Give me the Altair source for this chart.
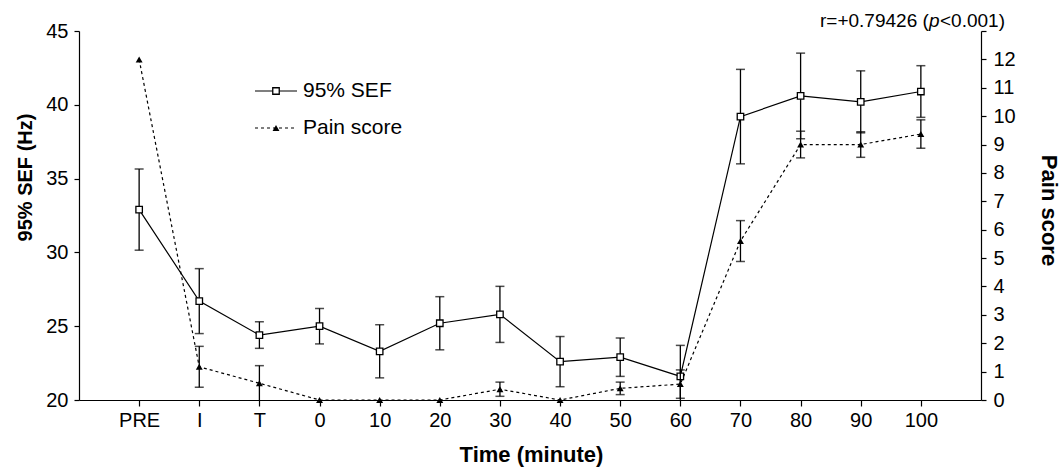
import altair as alt
import pandas as pd

# ---------------- data ----------------
categories = ["PRE", "I", "T", "0", "10", "20", "30", "40", "50", "60", "70", "80", "90", "100"]
sef_mean = [32.9, 26.7, 24.4, 25.0, 23.3, 25.2, 25.8, 22.6, 22.9, 21.6, 39.2, 40.6, 40.2, 40.9]
sef_err = [2.75, 2.2, 0.9, 1.2, 1.8, 1.8, 1.9, 1.7, 1.3, 2.1, 3.2, 2.9, 2.1, 1.75]
pain_mean = [12.0, 1.17, 0.59, 0.0, 0.0, 0.0, 0.38, 0.0, 0.41, 0.56, 5.6, 9.0, 9.0, 9.37]
pain_err = [0.0, 0.72, 0.62, 0.0, 0.0, 0.0, 0.25, 0.0, 0.22, 0.5, 0.72, 0.47, 0.45, 0.5]

left_ticks = [20, 25, 30, 35, 40, 45]
right_ticks = list(range(0, 14))
legend_labels = ["95% SEF", "Pain score"]
note_parts = ["r=+0.79426 (", "p", "<0.001)"]

df = pd.DataFrame({
    "time": categories,
    "sef": sef_mean,
    "sef_lo": [m - e for m, e in zip(sef_mean, sef_err)],
    "sef_hi": [m + e for m, e in zip(sef_mean, sef_err)],
    "pain": pain_mean,
    "pain_err": pain_err,
    "pain_lo": [m - e for m, e in zip(pain_mean, pain_err)],
    "pain_hi": [m + e for m, e in zip(pain_mean, pain_err)],
})

FONT = "Liberation Sans"
W, H = 902, 369

x_axis = alt.Axis(
    title="Time (minute)", labelAngle=0, tickSize=6, labelPadding=4,
    titleFontSize=22, titleFontWeight="bold", titleX=452, titleY=54,
    titleAlign="center", titleBaseline="middle", grid=False,
)
x_scale = alt.Scale(type="point", padding=1, domain=categories)


def X():
    return alt.X("time:O", sort=categories, scale=x_scale, axis=x_axis)


left_axis = alt.Axis(
    title="95% SEF (Hz)", orient="left", values=left_ticks, tickSize=5, labelPadding=6,
    titleAngle=270, titleX=-54, titleY=146, titleAlign="center", titleBaseline="middle",
    titleFontSize=20, titleFontWeight="bold", grid=False,
)
left_scale = alt.Scale(domain=[20, 45], nice=False, zero=False)

right_axis = alt.Axis(
    title="Pain score", orient="right", values=right_ticks,
    labelExpr="datum.value == 13 ? '' : datum.label", tickSize=5, labelPadding=7,
    titleAngle=90, titleX=67, titleY=179, titleAlign="center", titleBaseline="middle",
    titleFontSize=22, titleFontWeight="bold", grid=False,
)
right_scale = alt.Scale(domain=[0, 13], nice=False, zero=False)


def YL(field):
    return alt.Y(f"{field}:Q", scale=left_scale, axis=left_axis)


def YR(field):
    return alt.Y(f"{field}:Q", scale=right_scale, axis=right_axis)


base = alt.Chart(df)

sef_line = base.mark_line(color="black", strokeWidth=1.2).encode(x=X(), y=YL("sef"))
sef_rule = base.mark_rule(color="black", strokeWidth=1.3, clip=True).encode(
    x=X(), y=YL("sef_lo"), y2="sef_hi:Q")
sef_cap_lo = base.mark_tick(color="black", size=9, thickness=1.5, clip=True).encode(x=X(), y=YL("sef_lo"))
sef_cap_hi = base.mark_tick(color="black", size=9, thickness=1.5, clip=True).encode(x=X(), y=YL("sef_hi"))
sef_pts = base.mark_point(shape="square", filled=True, fill="white", stroke="black",
                          strokeWidth=1.3, size=42, opacity=1).encode(x=X(), y=YL("sef"))
sef_layer = alt.layer(sef_line, sef_rule, sef_cap_lo, sef_cap_hi, sef_pts)

pain_base = base.transform_filter("datum.pain_err > 0")
pain_line = base.mark_line(color="black", strokeWidth=1.2, strokeDash=[3, 3]).encode(x=X(), y=YR("pain"))
pain_rule = pain_base.mark_rule(color="black", strokeWidth=1.3, clip=True).encode(
    x=X(), y=YR("pain_lo"), y2="pain_hi:Q")
pain_cap_lo = pain_base.mark_tick(color="black", size=9, thickness=1.5, clip=True).encode(x=X(), y=YR("pain_lo"))
pain_cap_hi = pain_base.mark_tick(color="black", size=9, thickness=1.5, clip=True).encode(x=X(), y=YR("pain_hi"))
pain_pts = base.mark_point(shape="triangle-up", filled=True, color="black", size=48, opacity=1).encode(
    x=X(), y=YR("pain"))
pain_layer = alt.layer(pain_line, pain_rule, pain_cap_lo, pain_cap_hi, pain_pts)

# ---------------- legend (drawn by hand) ----------------
dummy = alt.Data(values=[{}])
leg1_line = alt.Chart(dummy).mark_rule(color="black", strokeWidth=1.2).encode(
    x=alt.value(176), x2=alt.value(218), y=alt.value(60))
leg1_pt = alt.Chart(dummy).mark_point(shape="square", filled=True, fill="white", stroke="black",
                                      strokeWidth=1.3, size=42, opacity=1).encode(
    x=alt.value(197), y=alt.value(60))
leg1_txt = alt.Chart(dummy).mark_text(text=legend_labels[0], align="left", baseline="middle",
                                      font=FONT, fontSize=21, color="black").encode(
    x=alt.value(224), y=alt.value(60))
leg2_line = alt.Chart(dummy).mark_rule(color="black", strokeWidth=1.2, strokeDash=[3, 3]).encode(
    x=alt.value(176), x2=alt.value(218), y=alt.value(97))
leg2_pt = alt.Chart(dummy).mark_point(shape="triangle-up", filled=True, color="black", size=48,
                                      opacity=1).encode(x=alt.value(197), y=alt.value(97))
leg2_txt = alt.Chart(dummy).mark_text(text=legend_labels[1], align="left", baseline="middle",
                                      font=FONT, fontSize=21, color="black").encode(
    x=alt.value(224), y=alt.value(97))

# ---------------- correlation note ----------------
note1 = alt.Chart(dummy).mark_text(text=note_parts[0], align="left", baseline="alphabetic",
                                   font=FONT, fontSize=19, color="black").encode(
    x=alt.value(741), y=alt.value(-4))
note2 = alt.Chart(dummy).mark_text(text=note_parts[1], align="left", baseline="alphabetic",
                                   font=FONT, fontSize=19, fontStyle="italic", color="black").encode(
    x=alt.value(850), y=alt.value(-4))
note3 = alt.Chart(dummy).mark_text(text=note_parts[2], align="left", baseline="alphabetic",
                                   font=FONT, fontSize=19, color="black").encode(
    x=alt.value(861), y=alt.value(-4))

chart = alt.layer(
    sef_layer, pain_layer,
    leg1_line, leg1_pt, leg1_txt, leg2_line, leg2_pt, leg2_txt,
    note1, note2, note3,
).resolve_scale(y="independent").properties(
    width=W, height=H,
    autosize=alt.AutoSizeParams(type="none"),
    padding={"left": 79, "top": 31, "right": 82, "bottom": 69},
    background="white",
).configure_view(stroke=None).configure_axis(
    labelFont=FONT, labelFontSize=20, labelColor="black",
    titleFont=FONT, titleColor="black",
    domainColor="black", domainWidth=1.2, tickColor="black", tickWidth=1.2,
)

chart.save("out.html", embed_options={"renderer": "svg", "actions": False})
